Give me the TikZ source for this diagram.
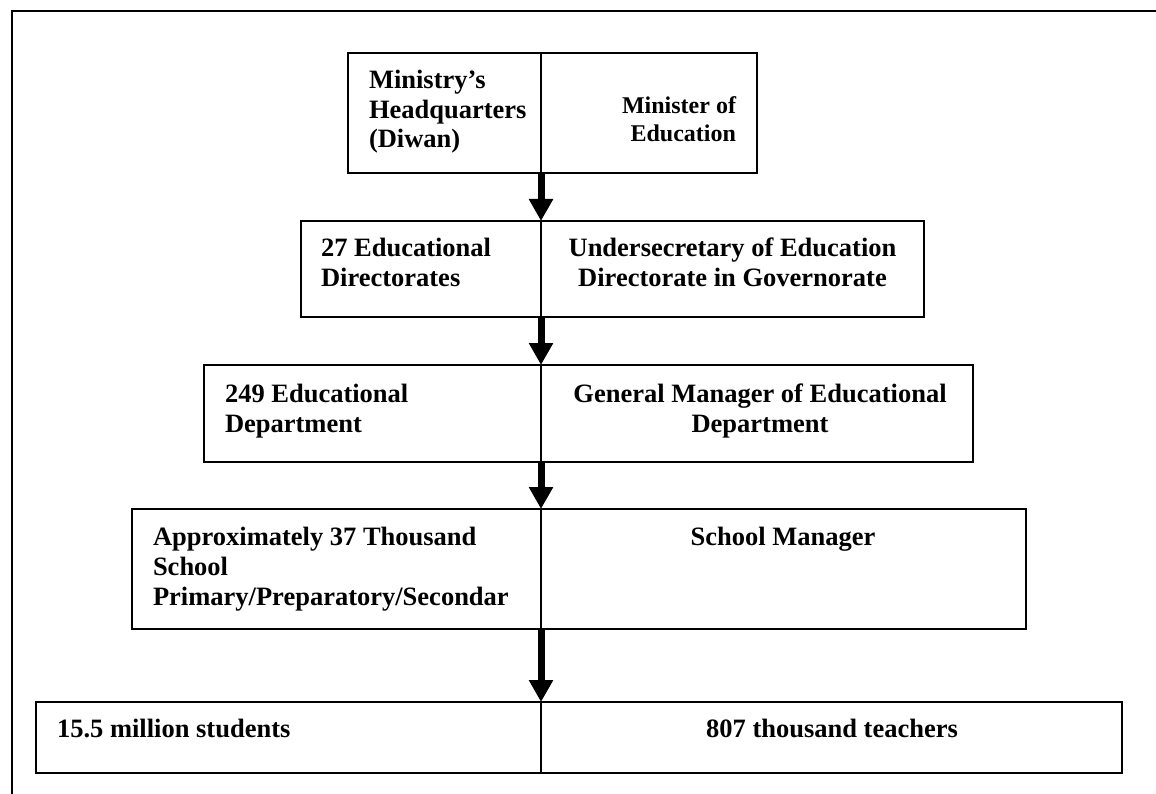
\documentclass[tikz,border=0pt]{standalone}
\usepackage{fontspec}
\setmainfont{Liberation Serif}
\usetikzlibrary{arrows.meta}

\tikzset{
  cell/.style={draw, line width=1.6pt, rectangle, anchor=north west,
               inner sep=0pt, outer sep=0pt},
  flow/.style={line width=7pt, -{Triangle[width=23pt,length=22pt]}},
  frameline/.style={line width=2pt},
  lbl/.style={inner sep=0pt, outer sep=0pt, font=\bfseries\fontsize{26.5pt}{30pt}\selectfont},
  lblsmall/.style={inner sep=0pt, outer sep=0pt, font=\bfseries\fontsize{24pt}{28pt}\selectfont},
  lineL/.style={lbl, anchor=base west},
  lineC/.style={lbl, anchor=base},
  lineR/.style={lblsmall, anchor=base east}
}

\begin{document}
\begin{tikzpicture}[x=1pt, y=-1pt]
  \useasboundingbox (0,0) rectangle (1156,794);

  % outer frame: only the top and left edges
  \coordinate (fbl) at (12,794);
  \coordinate (ftl) at (12,11);
  \coordinate (ftr) at (1156,11);
  \draw[frameline] (fbl) -- (ftl) -- (ftr);

  % level 1
  \node[cell, minimum width=193pt, minimum height=120pt] (b1l) at (348,53) {};
  \node[cell, minimum width=216pt, minimum height=120pt] (b1r) at (541,53) {};
  % level 2
  \node[cell, minimum width=240pt, minimum height=96pt] (b2l) at (301,221) {};
  \node[cell, minimum width=383pt, minimum height=96pt] (b2r) at (541,221) {};
  % level 3
  \node[cell, minimum width=337pt, minimum height=97pt] (b3l) at (204,365) {};
  \node[cell, minimum width=432pt, minimum height=97pt] (b3r) at (541,365) {};
  % level 4
  \node[cell, minimum width=409pt, minimum height=120pt] (b4l) at (132,509) {};
  \node[cell, minimum width=485pt, minimum height=120pt] (b4r) at (541,509) {};
  % level 5
  \node[cell, minimum width=505pt, minimum height=71pt] (b5l) at (36,702) {};
  \node[cell, minimum width=581pt, minimum height=71pt] (b5r) at (541,702) {};

  % arrows between levels
  \draw[flow] (b1l.south east) -- (b2l.north east);
  \draw[flow] (b2l.south east) -- (b3l.north east);
  \draw[flow] (b3l.south east) -- (b4l.north east);
  \draw[flow] (b4l.south east) -- (b5l.north east);

  % level 1 texts
  \node[lineL] (t1a) at (369,89)    {Ministry’s};
  \node[lineL] (t1b) at (369,118.5) {Headquarters};
  \node[lineL] (t1c) at (369,148)   {(Diwan)};
  \node[lineR] (t1d) at (736,114)   {Minister of};
  \node[lineR] (t1e) at (736,142)   {Education};

  % level 2 texts
  \node[lineL] (t2a) at (321,257) {27 Educational};
  \node[lineL] (t2b) at (321,287) {Directorates};
  \node[lineC] (t2c) at (732.5,257) {Undersecretary of Education};
  \node[lineC] (t2d) at (732.5,287) {Directorate in Governorate};

  % level 3 texts
  \node[lineL] (t3a) at (225,402) {249 Educational};
  \node[lineL] (t3b) at (225,432) {Department};
  \node[lineC] (t3c) at (760,402) {General Manager of Educational};
  \node[lineC] (t3d) at (760,432) {Department};

  % level 4 texts
  \node[lineL] (t4a) at (153,545) {Approximately 37 Thousand};
  \node[lineL] (t4b) at (153,575) {School};
  \node[lineL] (t4c) at (153,605) {Primary/Preparatory/Secondar};
  \node[lineC] (t4d) at (783,545) {School Manager};

  % level 5 texts
  \node[lineL] (t5a) at (57,737)  {15.5 million students};
  \node[lineC] (t5b) at (832,737) {807 thousand teachers};
\end{tikzpicture}
\end{document}
